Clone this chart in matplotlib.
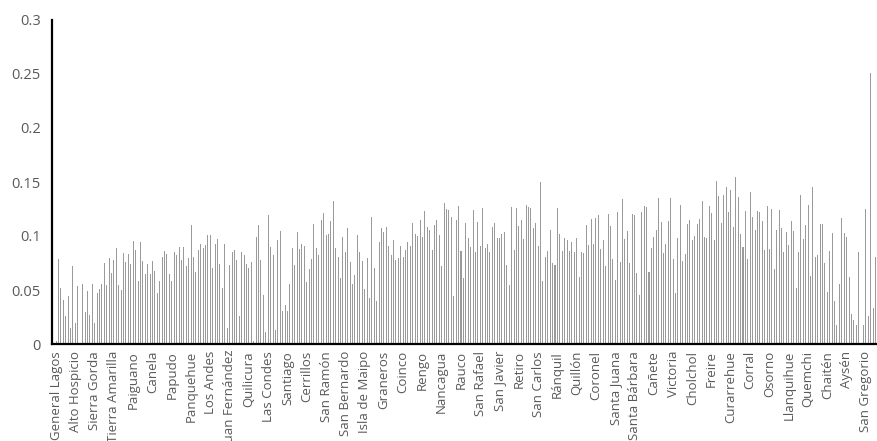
import numpy as np
import matplotlib.pyplot as plt

# one value per comuna, north to south
values = [
    0.003, 0.079, 0.052, 0.041, 0.026, 0.044, 0.015, 0.072, 0.019, 0.054,
    0.0, 0.056, 0.030, 0.049, 0.027, 0.056, 0.019, 0.047, 0.051, 0.056,
    0.075, 0.055, 0.080, 0.066, 0.078, 0.089, 0.055, 0.050, 0.084, 0.076,
    0.083, 0.074, 0.095, 0.087, 0.058, 0.094, 0.077, 0.065, 0.074, 0.065,
    0.077, 0.068, 0.047, 0.058, 0.081, 0.086, 0.083, 0.065, 0.058, 0.085,
    0.082, 0.090, 0.078, 0.090, 0.072, 0.080,
    0.110, 0.081, 0.067, 0.087, 0.093, 0.089, 0.092, 0.101, 0.101, 0.070,
    0.093, 0.097, 0.074, 0.052, 0.093, 0.015, 0.073, 0.085, 0.087, 0.078,
    0.026, 0.085, 0.082, 0.074, 0.070, 0.076, 0.003, 0.099, 0.110, 0.078,
    0.045, 0.011, 0.119, 0.090, 0.082, 0.013, 0.096, 0.105, 0.031, 0.036,
    0.031, 0.056, 0.089, 0.073, 0.104, 0.088, 0.093, 0.091, 0.057, 0.069,
    0.079, 0.111, 0.089, 0.082, 0.115, 0.121, 0.101,
    0.102, 0.114, 0.132, 0.089, 0.081, 0.061, 0.099, 0.085, 0.107, 0.076,
    0.056, 0.064, 0.101, 0.085, 0.077, 0.051, 0.080, 0.043, 0.118, 0.070,
    0.040, 0.094, 0.107, 0.104, 0.108, 0.091, 0.082, 0.096, 0.078, 0.080,
    0.091, 0.081, 0.087, 0.094, 0.091, 0.112, 0.102, 0.100, 0.115, 0.099,
    0.123, 0.108, 0.106, 0.087, 0.110, 0.115, 0.101, 0.072, 0.131, 0.125,
    0.124, 0.118, 0.044, 0.115, 0.128, 0.086, 0.061,
    0.112, 0.098, 0.090, 0.124, 0.085, 0.113, 0.091, 0.126, 0.089, 0.093,
    0.085, 0.108, 0.112, 0.098, 0.098, 0.102, 0.104, 0.073, 0.055, 0.127,
    0.087, 0.126, 0.109, 0.115, 0.097, 0.129, 0.127, 0.126, 0.107, 0.112,
    0.091, 0.150, 0.058, 0.081, 0.086, 0.106, 0.075, 0.073, 0.126, 0.102,
    0.086, 0.098, 0.096, 0.086, 0.094, 0.085, 0.098, 0.062, 0.085, 0.084,
    0.110, 0.092, 0.116, 0.093, 0.117, 0.119, 0.088, 0.096,
    0.072, 0.120, 0.109, 0.079, 0.059, 0.122, 0.076, 0.134, 0.097, 0.105,
    0.075, 0.120, 0.119, 0.066, 0.045, 0.122, 0.128, 0.127, 0.067, 0.089,
    0.099, 0.106, 0.135, 0.113, 0.084, 0.093, 0.114, 0.135, 0.079, 0.047,
    0.098, 0.129, 0.077, 0.083, 0.111, 0.115, 0.096, 0.100, 0.111, 0.116,
    0.132, 0.099, 0.098, 0.128, 0.121, 0.096, 0.151, 0.137, 0.112, 0.138,
    0.145, 0.122, 0.143, 0.108, 0.155, 0.136, 0.102,
    0.090, 0.123, 0.079, 0.141, 0.118, 0.106, 0.123, 0.122, 0.114, 0.087,
    0.128, 0.088, 0.125, 0.069, 0.106, 0.124, 0.107, 0.085, 0.104, 0.092,
    0.114, 0.105, 0.052, 0.085, 0.138, 0.097, 0.110, 0.129, 0.063, 0.145,
    0.081, 0.082, 0.111, 0.111, 0.075, 0.048, 0.086, 0.103, 0.040, 0.018,
    0.056, 0.117, 0.103, 0.099, 0.062, 0.028, 0.022, 0.018, 0.085, 0.0,
    0.018, 0.125, 0.026, 0.251, 0.033, 0.081,
]

# every 8th comuna gets a label
tick_names = [
    "General Lagos", "Alto Hospicio", "Sierra Gorda", "Tierra Amarilla",
    "Paiguano", "Canela", "Papudo", "Panquehue", "Los Andes",
    "Juan Fernández", "Quilicura", "Las Condes", "Santiago", "Cerrillos",
    "San Ramón", "San Bernardo", "Isla de Maipo", "Graneros", "Coinco",
    "Rengo", "Nancagua", "Rauco", "San Rafael", "San Javier", "Retiro",
    "San Carlos", "Ránquil", "Quillón", "Coronel", "Santa Juana",
    "Santa Bárbara", "Cañete", "Victoria", "Cholchol", "Freire",
    "Curarrehue", "Corral", "Osorno", "Llanquihue", "Quemchi", "Chaitén",
    "Aysén", "San Gregorio",
]
tick_step = 8
y_ticks = [0, 0.05, 0.1, 0.15, 0.2, 0.25, 0.3]

plt.rcParams['font.family'] = ['Open Sans', 'DejaVu Sans']

fig = plt.figure(figsize=(8.77, 4.41), dpi=100)
ax = fig.add_axes([52 / 877, 97 / 441, 1 - 52 / 877, 324 / 441])

x = np.arange(len(values))
ax.bar(x, values, width=0.42, color='#9a9a9a', linewidth=0)

ax.set_xlim(-1.7, len(values) - 0.4)
ax.set_ylim(0, 0.3)

ax.set_yticks(y_ticks)
ax.set_yticklabels([f"{v:g}" for v in y_ticks])
ax.set_xticks(x[::tick_step][:len(tick_names)])
ax.set_xticklabels(tick_names, rotation=90)

ax.tick_params(axis='both', length=0, colors='#595959')
ax.tick_params(axis='y', pad=8, labelsize=10.5)
ax.tick_params(axis='x', pad=5, labelsize=9.5)

for side in ('top', 'right'):
    ax.spines[side].set_visible(False)
for side in ('left', 'bottom'):
    ax.spines[side].set_color('black')
    ax.spines[side].set_linewidth(1.6)

fig.savefig('out.png', dpi=100)
